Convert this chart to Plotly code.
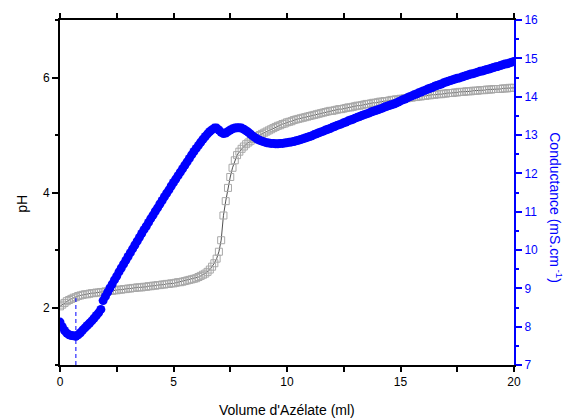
import plotly.graph_objects as go

volume = [
    0.0, 0.1, 0.2, 0.3, 0.4, 0.5, 0.6, 0.7, 0.8, 0.9,
    1.0, 1.1, 1.2, 1.3, 1.4, 1.5, 1.6, 1.7, 1.8, 1.9,
    2.0, 2.1, 2.2, 2.3, 2.4, 2.5, 2.6, 2.7, 2.8, 2.9,
    3.0, 3.1, 3.2, 3.3, 3.4, 3.5, 3.6, 3.7, 3.8, 3.9,
    4.0, 4.1, 4.2, 4.3, 4.4, 4.5, 4.6, 4.7, 4.8, 4.9,
    5.0, 5.1, 5.2, 5.3, 5.4, 5.5, 5.6, 5.7, 5.8, 5.9,
    6.0, 6.1, 6.2, 6.3, 6.4, 6.5, 6.6, 6.7, 6.8, 6.9,
    7.0, 7.1, 7.2, 7.3, 7.4, 7.5, 7.6, 7.7, 7.8, 7.9,
    8.0, 8.1, 8.2, 8.3, 8.4, 8.5, 8.6, 8.7, 8.8, 8.9,
    9.0, 9.1, 9.2, 9.3, 9.4, 9.5, 9.6, 9.7, 9.8, 9.9,
    10.0, 10.1, 10.2, 10.3, 10.4, 10.5, 10.6, 10.7, 10.8, 10.9,
    11.0, 11.1, 11.2, 11.3, 11.4, 11.5, 11.6, 11.7, 11.8, 11.9,
    12.0, 12.1, 12.2, 12.3, 12.4, 12.5, 12.6, 12.7, 12.8, 12.9,
    13.0, 13.1, 13.2, 13.3, 13.4, 13.5, 13.6, 13.7, 13.8, 13.9,
    14.0, 14.1, 14.2, 14.3, 14.4, 14.5, 14.6, 14.7, 14.8, 14.9,
    15.0, 15.1, 15.2, 15.3, 15.4, 15.5, 15.6, 15.7, 15.8, 15.9,
    16.0, 16.1, 16.2, 16.3, 16.4, 16.5, 16.6, 16.7, 16.8, 16.9,
    17.0, 17.1, 17.2, 17.3, 17.4, 17.5, 17.6, 17.7, 17.8, 17.9,
    18.0, 18.1, 18.2, 18.3, 18.4, 18.5, 18.6, 18.7, 18.8, 18.9,
    19.0, 19.1, 19.2, 19.3, 19.4, 19.5, 19.6, 19.7, 19.8, 19.9,
    20.0,
]

ph = [
    2.02, 2.05, 2.08, 2.11, 2.13, 2.15, 2.17, 2.18, 2.20, 2.21,
    2.22, 2.23, 2.23, 2.24, 2.25, 2.25, 2.26, 2.26, 2.27, 2.27,
    2.28, 2.28, 2.29, 2.29, 2.30, 2.30, 2.31, 2.31, 2.32, 2.32,
    2.33, 2.33, 2.34, 2.34, 2.35, 2.35, 2.35, 2.36, 2.36, 2.37,
    2.37, 2.38, 2.38, 2.39, 2.39, 2.40, 2.40, 2.41, 2.41, 2.42,
    2.42, 2.43, 2.44, 2.44, 2.45, 2.46, 2.47, 2.48, 2.49, 2.50,
    2.51, 2.53, 2.55, 2.57, 2.59, 2.62, 2.66, 2.71, 2.77, 2.85,
    2.97, 3.17, 3.60, 3.85, 4.08, 4.27, 4.43, 4.56, 4.65, 4.71,
    4.76, 4.80, 4.84, 4.87, 4.90, 4.93, 4.95, 4.98, 5.00, 5.02,
    5.04, 5.06, 5.08, 5.10, 5.12, 5.14, 5.16, 5.17, 5.19, 5.20,
    5.22, 5.23, 5.24, 5.26, 5.27, 5.28, 5.29, 5.30, 5.31, 5.32,
    5.33, 5.34, 5.35, 5.36, 5.37, 5.38, 5.39, 5.40, 5.41, 5.42,
    5.42, 5.43, 5.44, 5.45, 5.45, 5.46, 5.47, 5.48, 5.48, 5.49,
    5.50, 5.51, 5.51, 5.52, 5.53, 5.54, 5.54, 5.55, 5.56, 5.56,
    5.57, 5.58, 5.58, 5.59, 5.59, 5.60, 5.61, 5.61, 5.62, 5.62,
    5.63, 5.63, 5.64, 5.64, 5.65, 5.65, 5.66, 5.66, 5.67, 5.67,
    5.68, 5.68, 5.69, 5.69, 5.70, 5.70, 5.71, 5.71, 5.71, 5.72,
    5.72, 5.73, 5.73, 5.73, 5.74, 5.74, 5.75, 5.75, 5.75, 5.76,
    5.76, 5.76, 5.77, 5.77, 5.77, 5.78, 5.78, 5.78, 5.79, 5.79,
    5.79, 5.80, 5.80, 5.80, 5.80, 5.81, 5.81, 5.81, 5.82, 5.82,
    5.82,
]

conductance = [
    8.12, 8.00, 7.90, 7.83, 7.79, 7.77, 7.76, 7.75, 7.79, 7.84,
    7.91, 7.97, 8.03, 8.09, 8.15, 8.22, 8.29, 8.36, 8.45, 8.68,
    8.79, 8.90, 9.01, 9.11, 9.22, 9.32, 9.43, 9.53, 9.63, 9.73,
    9.83, 9.93, 10.03, 10.13, 10.23, 10.33, 10.43, 10.53, 10.62, 10.72,
    10.82, 10.91, 11.01, 11.10, 11.20, 11.29, 11.39, 11.48, 11.57, 11.67,
    11.76, 11.85, 11.94, 12.03, 12.12, 12.21, 12.30, 12.39, 12.48, 12.57,
    12.65, 12.73, 12.81, 12.89, 12.96, 13.03, 13.09, 13.14, 13.18, 13.18,
    13.13, 13.07, 13.04, 13.05, 13.09, 13.13, 13.16, 13.18, 13.19, 13.19,
    13.18, 13.15, 13.11, 13.07, 13.02, 12.97, 12.93, 12.89, 12.86, 12.84,
    12.82, 12.80, 12.79, 12.78, 12.78, 12.77, 12.77, 12.78, 12.78, 12.79,
    12.80, 12.81, 12.82, 12.83, 12.85, 12.86, 12.88, 12.90, 12.92, 12.94,
    12.96, 12.98, 13.01, 13.03, 13.06, 13.08, 13.10, 13.13, 13.15, 13.17,
    13.20, 13.22, 13.25, 13.27, 13.29, 13.32, 13.34, 13.37, 13.39, 13.41,
    13.44, 13.46, 13.48, 13.51, 13.53, 13.55, 13.57, 13.60, 13.62, 13.64,
    13.66, 13.68, 13.70, 13.73, 13.75, 13.77, 13.79, 13.81, 13.83, 13.86,
    13.89, 13.92, 13.94, 13.97, 14.00, 14.02, 14.05, 14.07, 14.10, 14.12,
    14.15, 14.17, 14.20, 14.22, 14.24, 14.27, 14.29, 14.31, 14.33, 14.36,
    14.38, 14.40, 14.42, 14.44, 14.46, 14.48, 14.49, 14.51, 14.53, 14.55,
    14.57, 14.59, 14.60, 14.62, 14.64, 14.66, 14.67, 14.69, 14.71, 14.72,
    14.74, 14.76, 14.78, 14.79, 14.81, 14.83, 14.85, 14.86, 14.88, 14.90,
    14.92,
]

x_ticks = [0, 5, 10, 15, 20]
ph_ticks = [2, 4, 6]
cond_ticks = [7, 8, 9, 10, 11, 12, 13, 14, 15, 16]

PH_RANGE = [1, 7]
COND_RANGE = [7, 16]

# equivalence marker: volume at the conductance minimum
i_min = min(range(len(conductance)), key=lambda i: conductance[i])
v_min = volume[i_min]

FONT = "Arial, Liberation Sans, sans-serif"
BLUE = "#0000ff"

fig = go.Figure()

fig.add_trace(go.Scatter(
    x=volume, y=ph, mode="lines+markers",
    line=dict(color="#222222", width=0.8),
    marker=dict(symbol="square-open", size=7, color="#a8a8a8",
                line=dict(width=1, color="#a8a8a8")),
    yaxis="y", showlegend=False, hoverinfo="skip",
))

fig.add_trace(go.Scatter(
    x=[v_min, v_min], y=[PH_RANGE[0], ph[i_min]], mode="lines",
    line=dict(color=BLUE, width=1, dash="4px,3px"),
    yaxis="y", showlegend=False, hoverinfo="skip",
))

fig.add_trace(go.Scatter(
    x=volume, y=conductance, mode="markers",
    marker=dict(symbol="circle", size=9, color=BLUE, line=dict(width=0)),
    yaxis="y2", showlegend=False, hoverinfo="skip",
))

fig.update_layout(
    width=579, height=419,
    margin=dict(l=60, r=65, t=20, b=54),
    paper_bgcolor="white", plot_bgcolor="white",
    font=dict(family=FONT, size=12, color="black"),
    xaxis=dict(
        range=[0, 20], tickvals=x_ticks, ticktext=[str(v) for v in x_ticks],
        showgrid=False, zeroline=False,
        showline=True, linecolor="black", linewidth=2, mirror="allticks",
        ticks="outside", ticklen=5, tickwidth=1.5, tickcolor="black",
        minor=dict(dtick=2.5, tick0=0, ticks="outside", ticklen=3, tickwidth=1.5, tickcolor="black"),
        tickfont=dict(size=12, color="black"),
    ),
    yaxis=dict(
        range=PH_RANGE, tickvals=ph_ticks, ticktext=[str(v) for v in ph_ticks],
        showgrid=False, zeroline=False,
        showline=True, linecolor="black", linewidth=2,
        ticks="outside", ticklen=6, tickwidth=1.5, tickcolor="black",
        minor=dict(dtick=1, tick0=0, ticks="outside", ticklen=3, tickwidth=1.5, tickcolor="black"),
        tickfont=dict(size=12, color="black"),
    ),
    yaxis2=dict(
        range=COND_RANGE, tickvals=cond_ticks, ticktext=[str(v) for v in cond_ticks],
        overlaying="y", side="right", anchor="x",
        showgrid=False, zeroline=False,
        showline=True, linecolor=BLUE, linewidth=2,
        ticks="outside", ticklen=6, tickwidth=1.5, tickcolor=BLUE,
        minor=dict(dtick=0.5, tick0=7, ticks="outside", ticklen=3, tickwidth=1.5, tickcolor=BLUE),
        tickfont=dict(size=12, color=BLUE),
    ),
    annotations=[
        dict(text="pH", xref="paper", yref="paper", x=-0.084, y=0.467,
             showarrow=False, textangle=-90, font=dict(size=14, color="black"),
             xanchor="center", yanchor="middle"),
        dict(text="Volume d'Azélate (ml)", xref="paper", yref="paper", x=0.5, y=-0.130,
             showarrow=False, font=dict(size=14, color="black"),
             xanchor="center", yanchor="middle"),
        dict(text="Conductance (mS.cm<sup> -1</sup>)", xref="paper", yref="paper", x=1.092, y=0.455,
             showarrow=False, textangle=90, font=dict(size=14, color=BLUE),
             xanchor="center", yanchor="middle"),
    ],
)

fig.write_html("out.html", config={"displayModeBar": False},
               post_script="document.body.style.margin='0';document.body.style.padding='0';")
